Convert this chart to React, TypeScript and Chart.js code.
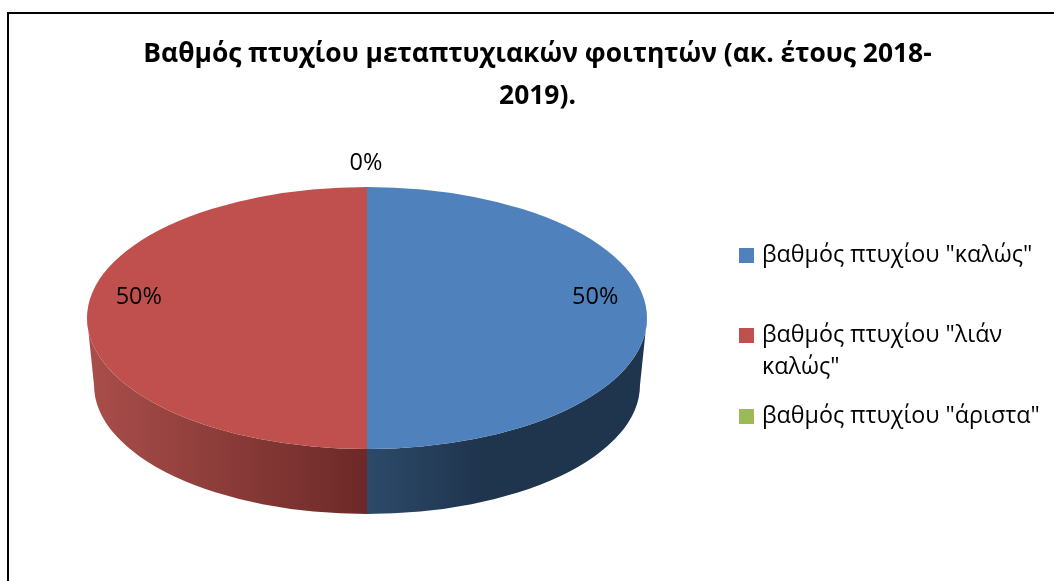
import React, { useEffect, useRef } from "react";
import { Chart, registerables } from "chart.js";

Chart.register(...registerables);

const titleLines = ["Βαθμός πτυχίου μεταπτυχιακών φοιτητών (ακ. έτους 2018-", "2019)."];
const categories = ['βαθμός πτυχίου "καλώς"', 'βαθμός πτυχίου "λιάν καλώς"', 'βαθμός πτυχίου "άριστα"'];
const legendLines = [['βαθμός πτυχίου "καλώς"'], ['βαθμός πτυχίου "λιάν', 'καλώς"'], ['βαθμός πτυχίου "άριστα"']];
const values = [1, 1, 0];
const colours = ["#4F81BD", "#C0504D", "#9BBB59"];
const sideStops = [
  [[0, "#2C4A69"], [0.42, "#1F344D"], [1, "#1F344D"]],
  [[0, "#A84D4A"], [1, "#6C2927"]],
  [[0, "#6F8A3A"], [1, "#6F8A3A"]],
];

const FONT = '"Open Sans", sans-serif';
const CX = 367, CY = 318, RX = 280, RY = 131;
const BOTTOM_CY = 385, BOTTOM_RX = 273, BOTTOM_RY = 129;

const pie3d = {
  id: "pie3d",
  beforeDatasetsDraw(chart: any) {
    const ctx = chart.ctx;
    const arcs = chart.getDatasetMeta(0).data;
    arcs.forEach((arc: any, i: number) => {
      const a = Math.max(arc.startAngle, 0);
      const b = Math.min(arc.endAngle, Math.PI);
      if (b <= a) return;
      const x0 = CX + RX * Math.cos(b);
      const x1 = CX + RX * Math.cos(a);
      const g = ctx.createLinearGradient(i === 1 ? x0 + 7 : x0, 0, x1, 0);
      sideStops[i].forEach(([o, c]: any) => g.addColorStop(o, c));
      ctx.save();
      ctx.beginPath();
      ctx.ellipse(CX, CY, RX, RY, 0, a, b);
      ctx.ellipse(CX, BOTTOM_CY, BOTTOM_RX, BOTTOM_RY, 0, b, a, true);
      ctx.closePath();
      ctx.fillStyle = g;
      ctx.fill();
      ctx.restore();
    });
    const arc0 = arcs[0];
    ctx.save();
    ctx.translate(CX, CY);
    ctx.scale(RX / arc0.outerRadius, RY / arc0.outerRadius);
    ctx.translate(-arc0.x, -arc0.y);
  },
  afterDatasetsDraw(chart: any) {
    const ctx = chart.ctx;
    ctx.restore();
    const arcs = chart.getDatasetMeta(0).data;
    const total = values.reduce((s, v) => s + v, 0);
    ctx.save();
    ctx.fillStyle = "#000";
    ctx.font = `23.5px ${FONT}`;
    ctx.textAlign = "center";
    ctx.textBaseline = "middle";
    arcs.forEach((arc: any, i: number) => {
      const pct = Math.round((values[i] / total) * 100);
      const mid = (arc.startAngle + arc.endAngle) / 2;
      if (values[i] === 0) {
        ctx.fillText(`${pct}%`, CX - 1, CY - RY - 24);
      } else {
        ctx.fillText(`${pct}%`, CX + 0.815 * RX * Math.cos(mid), CY - 21 + RY * 0.8 * Math.sin(mid));
      }
    });
    ctx.restore();
  },
  afterDraw(chart: any) {
    const ctx = chart.ctx;
    ctx.save();
    // frame: only its top and left edges fall inside the picture
    ctx.fillStyle = "#000";
    ctx.fillRect(7, 12, 2, 569);
    ctx.fillRect(7, 12, 1047, 2);
    // legend
    const tops = [255, 335, 416];
    ctx.font = `23.3px ${FONT}`;
    ctx.textBaseline = "middle";
    ctx.textAlign = "left";
    legendLines.forEach((lines, i) => {
      ctx.fillStyle = colours[i];
      ctx.fillRect(739, tops[i] - 7, 15, 15);
      ctx.fillStyle = "#000";
      lines.forEach((t, j) => ctx.fillText(t, 762, tops[i] + j * 32));
    });
    ctx.restore();
  },
};

export default function App() {
  const ref = useRef<HTMLCanvasElement>(null);
  useEffect(() => {
    document.body.style.margin = "0";
    document.body.style.overflow = "hidden";
    const chart = new Chart(ref.current!, {
      type: "pie",
      data: {
        labels: categories,
        datasets: [{ data: values, backgroundColor: colours, borderWidth: 0, radius: 280, clip: false } as any],
      },
      options: {
        responsive: false,
        animation: false,
        layout: { padding: { left: 21, top: 33 } },
        plugins: {
          legend: { display: false },
          tooltip: { enabled: false },
          title: {
            display: true,
            text: titleLines,
            color: "#000",
            font: { family: FONT, size: 26.4, weight: "bold", lineHeight: 1.6 },
            padding: 0,
          },
        },
      },
      plugins: [pie3d],
    } as any);
    return () => chart.destroy();
  }, []);
  return (
    <div style={{ position: "fixed", left: 0, top: 0, width: 1054, height: 581, background: "#fff" }}>
      <canvas ref={ref} width={1054} height={581} style={{ display: "block" }} />
    </div>
  );
}
